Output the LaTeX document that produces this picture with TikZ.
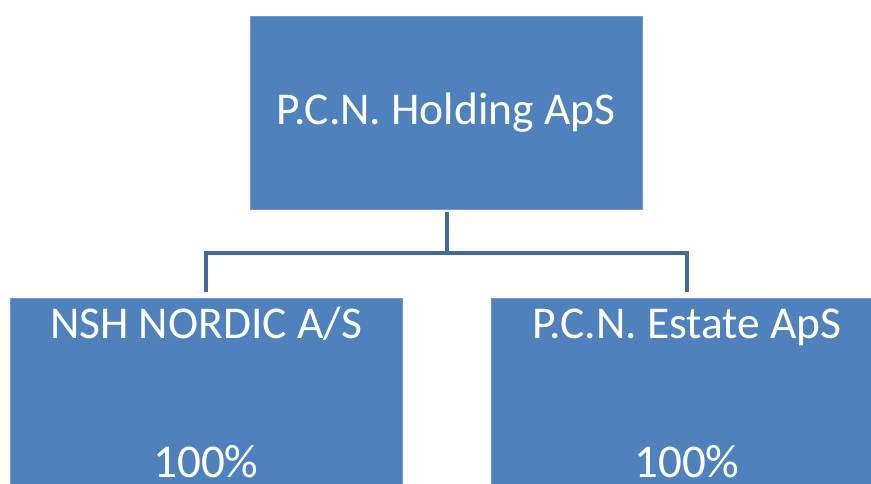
\documentclass[tikz,border=0pt]{standalone}
\usepackage{fontspec}
\setmainfont{Carlito}
\usetikzlibrary{calc}
\definecolor{boxblue}{HTML}{4F81BD}
\definecolor{edgeblue}{HTML}{6E96C8}
\definecolor{lineblue}{HTML}{3F6A9B}
\tikzset{
  orgbox/.style={rectangle, fill=boxblue, draw=edgeblue, line width=0.8pt, minimum width=392pt, minimum height=193pt, inner sep=0pt},
  bigtxt/.style={text=white, font=\fontsize{45.5}{52}\selectfont, inner sep=0pt, anchor=base},
  subtxt/.style={text=white, font=\fontsize{45.5}{52}\selectfont, inner sep=0pt, anchor=base},
  pcttxt/.style={text=white, font=\fontsize{47}{52}\selectfont, inner sep=0pt, anchor=base}
}
\tikzset{conn/.style={draw=lineblue, line width=4pt, line join=miter}}
\begin{document}
\begin{tikzpicture}[x=1pt,y=-1pt]
\useasboundingbox (0,0) rectangle (871,484);
\clip (0,0) rectangle (871,484);
\node[orgbox] (top) at (446.5,112.5) {};
\node[bigtxt] (toptxt) at (446,125) {P.C.N. Holding ApS};
\node[orgbox] (nsh) at (206,394.5) {};
\node[orgbox] (pcn) at (687,394.5) {};
\node[subtxt] (nshname) at (206,338) {NSH NORDIC A/S};
\node[pcttxt] (nshpct) at (206,477) {100\%};
\node[subtxt] (pcnname) at (687,338) {P.C.N. Estate ApS};
\node[pcttxt] (pcnpct) at (687,477) {100\%};
\coordinate (mid) at (446.5,253);
\draw[conn, shorten <=3pt] (top.south) -- (mid);
\draw[conn, shorten <=6pt, shorten >=6pt] (nsh.north) |- (mid) -| (pcn.north);
\end{tikzpicture}
\end{document}
